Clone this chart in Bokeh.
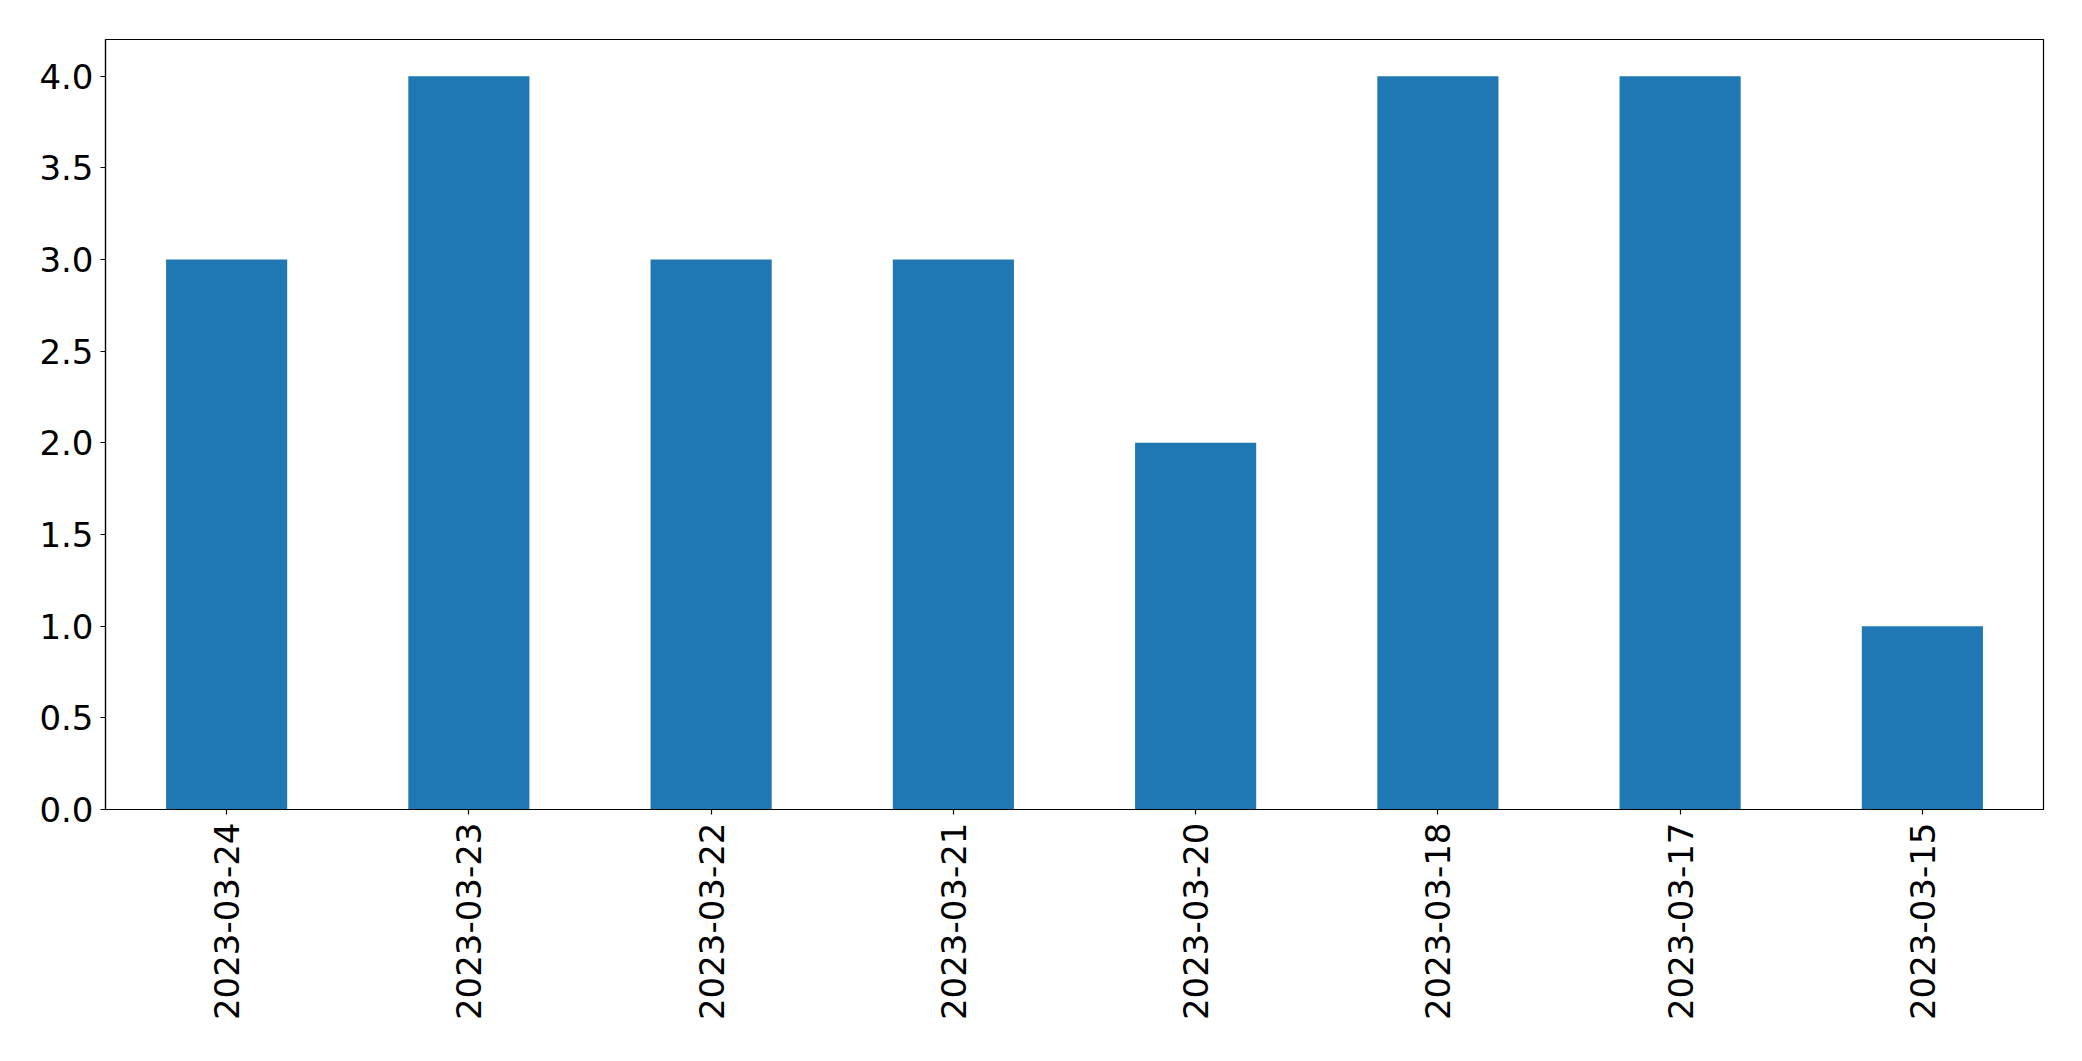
import math
from bokeh.plotting import figure
from bokeh.models import FactorRange, Range1d, FixedTicker, NumeralTickFormatter, ColumnDataSource
from bokeh.embed import file_html
from bokeh.resources import INLINE

dates = ["2023-03-24", "2023-03-23", "2023-03-22", "2023-03-21",
         "2023-03-20", "2023-03-18", "2023-03-17", "2023-03-15"]
counts = [3, 4, 3, 3, 2, 4, 4, 1]
y_ticks = [0.0, 0.5, 1.0, 1.5, 2.0, 2.5, 3.0, 3.5, 4.0]

src = ColumnDataSource(dict(x=dates, top=counts))

p = figure(width=2074, height=1053, output_backend="svg", toolbar_location=None,
           x_range=FactorRange(factors=dates, range_padding=0),
           y_range=Range1d(0, 4.2),
           min_border_left=105, min_border_top=39, min_border_right=31, min_border_bottom=244)

p.vbar(x="x", top="top", bottom=0, width=0.5, source=src,
       fill_color="#1f77b4", line_color=None)

p.xgrid.visible = False
p.ygrid.visible = False
p.outline_line_color = "black"
p.outline_line_width = 1.2
p.outline_line_alpha = 1.0
p.background_fill_color = "white"
p.border_fill_color = "white"

for ax in (p.xaxis[0], p.yaxis[0]):
    ax.axis_line_color = "black"
    ax.axis_line_width = 1.2
    ax.major_tick_line_color = "black"
    ax.major_tick_line_width = 1.2
    ax.major_tick_out = 5
    ax.major_tick_in = 0
    ax.minor_tick_line_color = None
    ax.major_label_text_font = "DejaVu Sans"
    ax.major_label_text_font_size = "34px"
    ax.major_label_text_color = "black"

p.yaxis[0].ticker = FixedTicker(ticks=y_ticks)
p.yaxis[0].formatter = NumeralTickFormatter(format="0.0")
p.yaxis[0].major_label_standoff = 7

p.xaxis[0].major_label_orientation = math.pi / 2
p.xaxis[0].major_label_standoff = 8
p.xaxis[0].group_text_font_size = "0px"

open("out.html", "w").write(file_html(p, INLINE))
